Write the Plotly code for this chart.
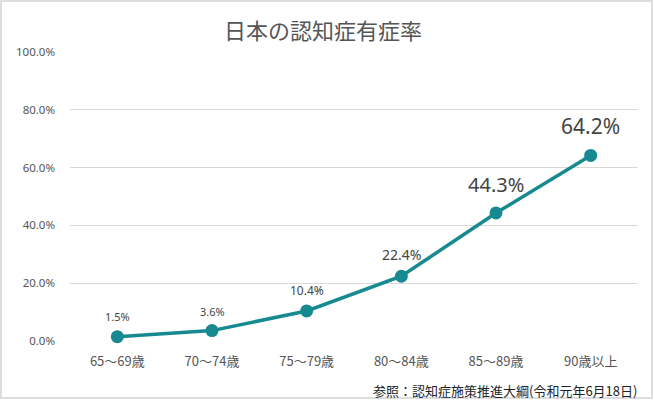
import plotly.graph_objects as go

categories = ["65～69歳", "70～74歳", "75～79歳", "80～84歳", "85～89歳", "90歳以上"]
rates = [1.5, 3.6, 10.4, 22.4, 44.3, 64.2]
rate_labels = ["1.5%", "3.6%", "10.4%", "22.4%", "44.3%", "64.2%"]
label_sizes = [11, 11, 12, 14, 20, 21]
label_shifts = [20, 19, 20, 22, 28, 29]
y_ticks = [0, 20, 40, 60, 80, 100]
y_tick_labels = ["0.0%", "20.0%", "40.0%", "60.0%", "80.0%", "100.0%"]

W, H = 654, 400
L, R, T, B = 70, 16, 52, 59
pw, ph = W - L - R, H - T - B

def px(x):
    return (x - L) / pw

def py(y):
    return (H - B - y) / ph

teal = "#168a90"
num_font = "Noto Sans, Open Sans, sans-serif"
jp_font = "Noto Sans CJK JP, Noto Sans, sans-serif"

fig = go.Figure()
fig.add_trace(go.Scatter(
    x=categories, y=rates, mode="lines+markers",
    line=dict(color=teal, width=3.5),
    marker=dict(color=teal, size=13),
    cliponaxis=False, hoverinfo="skip",
))

annotations = []
for c, v, t, s, sh in zip(categories, rates, rate_labels, label_sizes, label_shifts):
    annotations.append(dict(
        x=c, y=v, text=t, showarrow=False, yshift=sh, xanchor="center", yanchor="middle",
        font=dict(family=num_font, size=s, color="#444444"),
    ))

annotations.append(dict(
    xref="paper", yref="paper", x=px(323), y=py(29), text="日本の認知症有症率",
    showarrow=False, xanchor="center", yanchor="middle",
    font=dict(family=jp_font, size=22, color="#555555"),
))
annotations.append(dict(
    xref="paper", yref="paper", x=px(639), y=py(390), text="参照：認知症施策推進大綱(令和元年6月18日)",
    showarrow=False, xanchor="right", yanchor="middle",
    font=dict(family=jp_font, size=13, color="#222222"),
))

fig.update_layout(
    width=W, height=H,
    margin=dict(l=L, r=R, t=T, b=B),
    paper_bgcolor="white", plot_bgcolor="white",
    showlegend=False,
    annotations=annotations,
    shapes=[dict(
        type="rect", xref="paper", yref="paper",
        x0=px(1), x1=px(652), y0=py(398), y1=py(1),
        line=dict(color="#dddddd", width=2), layer="below",
    )],
    xaxis=dict(
        type="category", range=[-0.5, 5.5], showgrid=False, zeroline=False,
        showline=False, ticks="", ticklabelstandoff=11,
        tickfont=dict(family=jp_font, size=13, color="#555555"),
        fixedrange=True,
    ),
    yaxis=dict(
        range=[0, 100], tickvals=y_ticks, ticktext=y_tick_labels,
        showgrid=True, gridcolor="#d9d9d9", gridwidth=1, zeroline=False,
        showline=False, ticks="", ticklabelstandoff=14,
        tickfont=dict(family=num_font, size=11.5, color="#555555"),
        fixedrange=True,
    ),
)

fig.write_html("out.html")
